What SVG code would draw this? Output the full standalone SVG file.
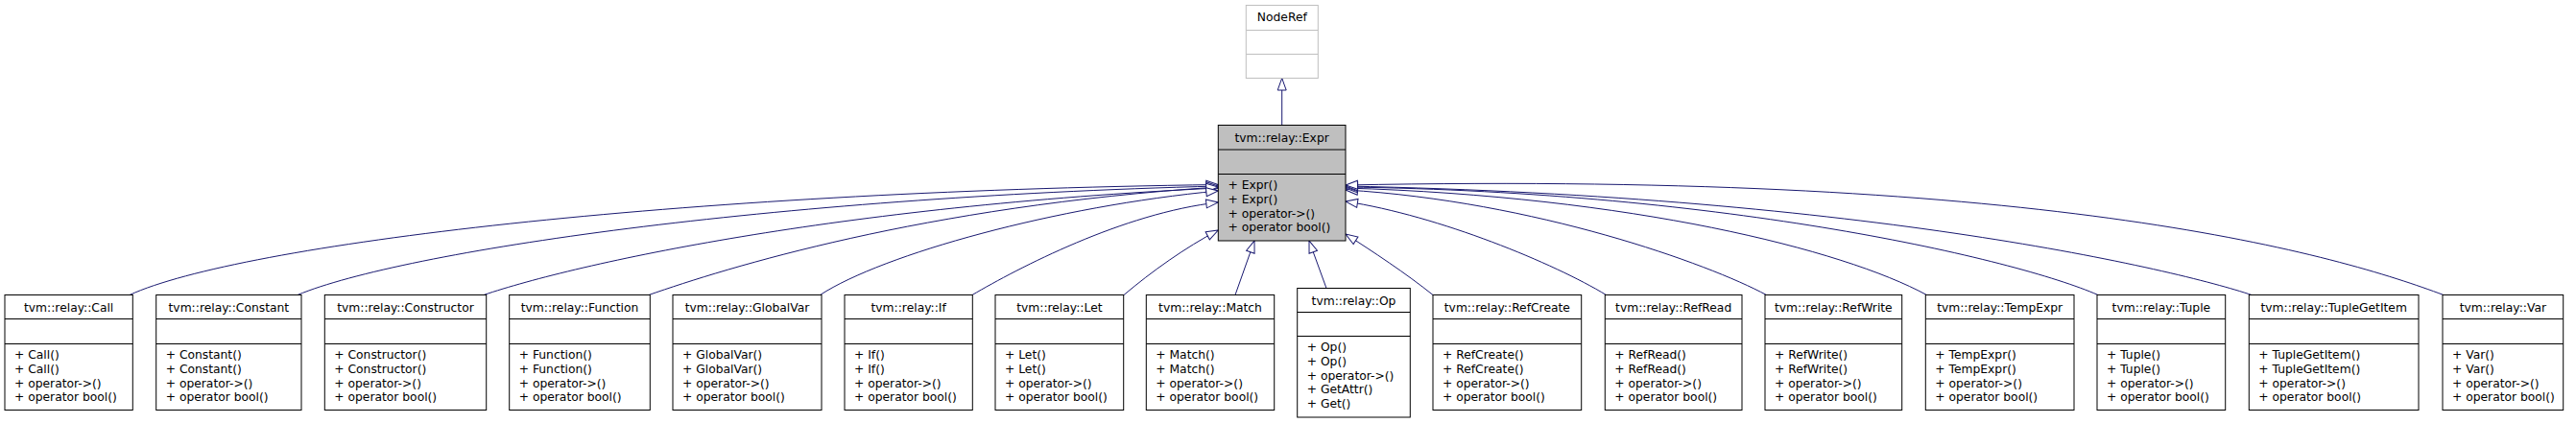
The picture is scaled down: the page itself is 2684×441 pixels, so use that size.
<svg xmlns="http://www.w3.org/2000/svg" width="2684" height="441" viewBox="0 0 2684 441">
<style>
.bg{fill:#fff}
.box{fill:#fff;stroke:#000;stroke-width:1}
.sel{fill:#bfbfbf;stroke:#000;stroke-width:1}
.ext{fill:#fff;stroke:#bfbfbf;stroke-width:1}
.div{stroke:#000;stroke-width:1}
.divx{stroke:#bfbfbf;stroke-width:1}
text{font-family:"DejaVu Sans",Verdana,sans-serif;font-size:12.3px;fill:#000}
.t{text-anchor:middle}
.e{fill:none;stroke:#191970;stroke-width:1;marker-end:url(#inh)}
</style>
<defs>
<marker id="inh" markerUnits="userSpaceOnUse" viewBox="-1 -1 15 11" markerWidth="15" markerHeight="11" refX="12.5" refY="4.5" orient="auto">
<path d="M0,0 L12.5,4.5 L0,9 Z" fill="#fff" stroke="#191970" stroke-width="1"/>
</marker>
</defs>
<rect class="bg" x="0" y="0" width="2684" height="441"/>

<g id="edges">
<path class="e" d="M1335.7,130.5 L1335.7,81.5"/>
<path class="e" d="M135,307.5 C250,255 700,200 1269.3,192.5"/>
<path class="e" d="M310,307.5 C420,262 800,206 1269.3,194"/>
<path class="e" d="M504,307.5 C600,275 870,215 1269.3,196"/>
<path class="e" d="M676,307.5 C755,280 960,215 1269.3,195"/>
<path class="e" d="M854.5,307.5 C920,265 1100,215 1269.3,199"/>
<path class="e" d="M1013,307.5 C1060,280 1170,222 1269.3,211"/>
<path class="e" d="M1171,307.5 C1200,283 1235,258 1269.3,240"/>
<path class="e" d="M1287,307.5 L1307,251"/>
<path class="e" d="M1382,300.5 L1364,251"/>
<path class="e" d="M1493,307.5 C1465,285 1430,262 1402,244"/>
<path class="e" d="M1673.5,307.5 C1620,275 1500,225 1402,210"/>
<path class="e" d="M1840.5,307.5 C1780,275 1600,210 1402,198"/>
<path class="e" d="M2007.5,307.5 C1920,260 1700,205 1402,196"/>
<path class="e" d="M2186,307.5 C2100,270 1800,200 1402,195"/>
<path class="e" d="M2346,307.5 C2270,282 1950,205 1402,194"/>
<path class="e" d="M2546,307.5 C2440,268 2150,178 1402,193"/>
</g>

<g id="n-noderef">
<rect class="ext" x="1298.3" y="5.5" width="75" height="76"/>
<line class="divx" x1="1298.3" y1="31.5" x2="1373.3" y2="31.5"/>
<line class="divx" x1="1298.3" y1="56.5" x2="1373.3" y2="56.5"/>
<text class="t" x="1335.8" y="21.5">NodeRef</text>
</g>

<g id="n-expr">
<rect class="sel" x="1269.3" y="130.5" width="132.7" height="120.5"/>
<line class="div" x1="1269.3" y1="156" x2="1402" y2="156"/>
<line class="div" x1="1269.3" y1="181.5" x2="1402" y2="181.5"/>
<text class="t" x="1335.65" y="147.5">tvm::relay::Expr</text>
<text x="1279.5" y="197"><tspan x="1279.5">+ Expr()</tspan><tspan x="1279.5" dy="14.8">+ Expr()</tspan><tspan x="1279.5" dy="14.8">+ operator-&gt;()</tspan><tspan x="1279.5" dy="14.8">+ operator bool()</tspan></text>
</g>

<g id="n-call">
<rect class="box" x="5" y="307.5" width="133.3" height="120"/>
<line class="div" x1="5" y1="332.5" x2="138.3" y2="332.5"/>
<line class="div" x1="5" y1="358.5" x2="138.3" y2="358.5"/>
<text class="t" x="71.65" y="324.5">tvm::relay::Call</text>
<text x="15" y="374"><tspan x="15">+ Call()</tspan><tspan x="15" dy="14.8">+ Call()</tspan><tspan x="15" dy="14.8">+ operator-&gt;()</tspan><tspan x="15" dy="14.8">+ operator bool()</tspan></text>
</g>

<g id="n-constant">
<rect class="box" x="162.7" y="307.5" width="151.3" height="120"/>
<line class="div" x1="162.7" y1="332.5" x2="314" y2="332.5"/>
<line class="div" x1="162.7" y1="358.5" x2="314" y2="358.5"/>
<text class="t" x="238.35" y="324.5">tvm::relay::Constant</text>
<text x="172.7" y="374"><tspan x="172.7">+ Constant()</tspan><tspan x="172.7" dy="14.8">+ Constant()</tspan><tspan x="172.7" dy="14.8">+ operator-&gt;()</tspan><tspan x="172.7" dy="14.8">+ operator bool()</tspan></text>
</g>

<g id="n-constructor">
<rect class="box" x="338.3" y="307.5" width="168.4" height="120"/>
<line class="div" x1="338.3" y1="332.5" x2="506.7" y2="332.5"/>
<line class="div" x1="338.3" y1="358.5" x2="506.7" y2="358.5"/>
<text class="t" x="422.5" y="324.5">tvm::relay::Constructor</text>
<text x="348.3" y="374"><tspan x="348.3">+ Constructor()</tspan><tspan x="348.3" dy="14.8">+ Constructor()</tspan><tspan x="348.3" dy="14.8">+ operator-&gt;()</tspan><tspan x="348.3" dy="14.8">+ operator bool()</tspan></text>
</g>

<g id="n-function">
<rect class="box" x="530.7" y="307.5" width="146.6" height="120"/>
<line class="div" x1="530.7" y1="332.5" x2="677.3" y2="332.5"/>
<line class="div" x1="530.7" y1="358.5" x2="677.3" y2="358.5"/>
<text class="t" x="604" y="324.5">tvm::relay::Function</text>
<text x="540.7" y="374"><tspan x="540.7">+ Function()</tspan><tspan x="540.7" dy="14.8">+ Function()</tspan><tspan x="540.7" dy="14.8">+ operator-&gt;()</tspan><tspan x="540.7" dy="14.8">+ operator bool()</tspan></text>
</g>

<g id="n-globalvar">
<rect class="box" x="701" y="307.5" width="155" height="120"/>
<line class="div" x1="701" y1="332.5" x2="856" y2="332.5"/>
<line class="div" x1="701" y1="358.5" x2="856" y2="358.5"/>
<text class="t" x="778.5" y="324.5">tvm::relay::GlobalVar</text>
<text x="711" y="374"><tspan x="711">+ GlobalVar()</tspan><tspan x="711" dy="14.8">+ GlobalVar()</tspan><tspan x="711" dy="14.8">+ operator-&gt;()</tspan><tspan x="711" dy="14.8">+ operator bool()</tspan></text>
</g>

<g id="n-if">
<rect class="box" x="880" y="307.5" width="133.3" height="120"/>
<line class="div" x1="880" y1="332.5" x2="1013.3" y2="332.5"/>
<line class="div" x1="880" y1="358.5" x2="1013.3" y2="358.5"/>
<text class="t" x="946.65" y="324.5">tvm::relay::If</text>
<text x="890" y="374"><tspan x="890">+ If()</tspan><tspan x="890" dy="14.8">+ If()</tspan><tspan x="890" dy="14.8">+ operator-&gt;()</tspan><tspan x="890" dy="14.8">+ operator bool()</tspan></text>
</g>

<g id="n-let">
<rect class="box" x="1037" y="307.5" width="133.7" height="120"/>
<line class="div" x1="1037" y1="332.5" x2="1170.7" y2="332.5"/>
<line class="div" x1="1037" y1="358.5" x2="1170.7" y2="358.5"/>
<text class="t" x="1103.85" y="324.5">tvm::relay::Let</text>
<text x="1047" y="374"><tspan x="1047">+ Let()</tspan><tspan x="1047" dy="14.8">+ Let()</tspan><tspan x="1047" dy="14.8">+ operator-&gt;()</tspan><tspan x="1047" dy="14.8">+ operator bool()</tspan></text>
</g>

<g id="n-match">
<rect class="box" x="1194.3" y="307.5" width="133.4" height="120"/>
<line class="div" x1="1194.3" y1="332.5" x2="1327.7" y2="332.5"/>
<line class="div" x1="1194.3" y1="358.5" x2="1327.7" y2="358.5"/>
<text class="t" x="1261" y="324.5">tvm::relay::Match</text>
<text x="1204.3" y="374"><tspan x="1204.3">+ Match()</tspan><tspan x="1204.3" dy="14.8">+ Match()</tspan><tspan x="1204.3" dy="14.8">+ operator-&gt;()</tspan><tspan x="1204.3" dy="14.8">+ operator bool()</tspan></text>
</g>

<g id="n-op">
<rect class="box" x="1351.7" y="300.5" width="117.6" height="134.5"/>
<line class="div" x1="1351.7" y1="325.5" x2="1469.3" y2="325.5"/>
<line class="div" x1="1351.7" y1="350.5" x2="1469.3" y2="350.5"/>
<text class="t" x="1410.5" y="317.5">tvm::relay::Op</text>
<text x="1361.7" y="366"><tspan x="1361.7">+ Op()</tspan><tspan x="1361.7" dy="14.8">+ Op()</tspan><tspan x="1361.7" dy="14.8">+ operator-&gt;()</tspan><tspan x="1361.7" dy="14.8">+ GetAttr()</tspan><tspan x="1361.7" dy="14.8">+ Get()</tspan></text>
</g>

<g id="n-refcreate">
<rect class="box" x="1493" y="307.5" width="154.7" height="120"/>
<line class="div" x1="1493" y1="332.5" x2="1647.7" y2="332.5"/>
<line class="div" x1="1493" y1="358.5" x2="1647.7" y2="358.5"/>
<text class="t" x="1570.35" y="324.5">tvm::relay::RefCreate</text>
<text x="1503" y="374"><tspan x="1503">+ RefCreate()</tspan><tspan x="1503" dy="14.8">+ RefCreate()</tspan><tspan x="1503" dy="14.8">+ operator-&gt;()</tspan><tspan x="1503" dy="14.8">+ operator bool()</tspan></text>
</g>

<g id="n-refread">
<rect class="box" x="1672.3" y="307.5" width="142.7" height="120"/>
<line class="div" x1="1672.3" y1="332.5" x2="1815" y2="332.5"/>
<line class="div" x1="1672.3" y1="358.5" x2="1815" y2="358.5"/>
<text class="t" x="1743.65" y="324.5">tvm::relay::RefRead</text>
<text x="1682.3" y="374"><tspan x="1682.3">+ RefRead()</tspan><tspan x="1682.3" dy="14.8">+ RefRead()</tspan><tspan x="1682.3" dy="14.8">+ operator-&gt;()</tspan><tspan x="1682.3" dy="14.8">+ operator bool()</tspan></text>
</g>

<g id="n-refwrite">
<rect class="box" x="1839" y="307.5" width="142.7" height="120"/>
<line class="div" x1="1839" y1="332.5" x2="1981.7" y2="332.5"/>
<line class="div" x1="1839" y1="358.5" x2="1981.7" y2="358.5"/>
<text class="t" x="1910.35" y="324.5">tvm::relay::RefWrite</text>
<text x="1849" y="374"><tspan x="1849">+ RefWrite()</tspan><tspan x="1849" dy="14.8">+ RefWrite()</tspan><tspan x="1849" dy="14.8">+ operator-&gt;()</tspan><tspan x="1849" dy="14.8">+ operator bool()</tspan></text>
</g>

<g id="n-tempexpr">
<rect class="box" x="2006.3" y="307.5" width="154.7" height="120"/>
<line class="div" x1="2006.3" y1="332.5" x2="2161" y2="332.5"/>
<line class="div" x1="2006.3" y1="358.5" x2="2161" y2="358.5"/>
<text class="t" x="2083.65" y="324.5">tvm::relay::TempExpr</text>
<text x="2016.3" y="374"><tspan x="2016.3">+ TempExpr()</tspan><tspan x="2016.3" dy="14.8">+ TempExpr()</tspan><tspan x="2016.3" dy="14.8">+ operator-&gt;()</tspan><tspan x="2016.3" dy="14.8">+ operator bool()</tspan></text>
</g>

<g id="n-tuple">
<rect class="box" x="2185" y="307.5" width="133.7" height="120"/>
<line class="div" x1="2185" y1="332.5" x2="2318.7" y2="332.5"/>
<line class="div" x1="2185" y1="358.5" x2="2318.7" y2="358.5"/>
<text class="t" x="2251.85" y="324.5">tvm::relay::Tuple</text>
<text x="2195" y="374"><tspan x="2195">+ Tuple()</tspan><tspan x="2195" dy="14.8">+ Tuple()</tspan><tspan x="2195" dy="14.8">+ operator-&gt;()</tspan><tspan x="2195" dy="14.8">+ operator bool()</tspan></text>
</g>

<g id="n-tuplegetitem">
<rect class="box" x="2343.3" y="307.5" width="176.7" height="120"/>
<line class="div" x1="2343.3" y1="332.5" x2="2520" y2="332.5"/>
<line class="div" x1="2343.3" y1="358.5" x2="2520" y2="358.5"/>
<text class="t" x="2431.65" y="324.5">tvm::relay::TupleGetItem</text>
<text x="2353.3" y="374"><tspan x="2353.3">+ TupleGetItem()</tspan><tspan x="2353.3" dy="14.8">+ TupleGetItem()</tspan><tspan x="2353.3" dy="14.8">+ operator-&gt;()</tspan><tspan x="2353.3" dy="14.8">+ operator bool()</tspan></text>
</g>

<g id="n-var">
<rect class="box" x="2545" y="307.5" width="125.7" height="120"/>
<line class="div" x1="2545" y1="332.5" x2="2670.7" y2="332.5"/>
<line class="div" x1="2545" y1="358.5" x2="2670.7" y2="358.5"/>
<text class="t" x="2607.85" y="324.5">tvm::relay::Var</text>
<text x="2555" y="374"><tspan x="2555">+ Var()</tspan><tspan x="2555" dy="14.8">+ Var()</tspan><tspan x="2555" dy="14.8">+ operator-&gt;()</tspan><tspan x="2555" dy="14.8">+ operator bool()</tspan></text>
</g>
</svg>
